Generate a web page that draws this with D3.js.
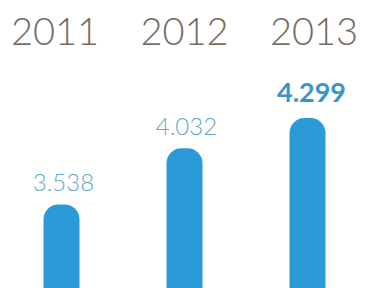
<!DOCTYPE html>
<html>
<head>
<meta charset="utf-8">
<script src="https://cdn.jsdelivr.net/npm/d3@7"></script>
<style>
  body { margin: 0; background: #fff; }
  svg { display: block; }
</style>
</head>
<body>
<div id="chart"></div>
<script>
const years = ["2011", "2012", "2013"];
const values = [3538, 4032, 4299];
const labels = ["3.538", "4.032", "4.299"];

const width = 372, height = 288;

const svg = d3.select("#chart").append("svg")
    .attr("width", width)
    .attr("height", height);

// bars
const x = d3.scalePoint()
    .domain(years)
    .range([0, 369])
    .padding(0.5);

// year headers sit a bit wider than the bars
const xYear = d3.scalePoint()
    .domain(years)
    .range([55, 314]);

const y = d3.scaleLinear()
    .domain([0, 4299])
    .range([606, 118]);

const barW = 36;
const data = years.map((d, i) => ({year: d, value: values[i], label: labels[i], last: i === years.length - 1}));

svg.append("g")
  .selectAll("rect")
  .data(data)
  .enter().append("rect")
    .attr("x", d => x(d.year) - barW / 2)
    .attr("y", d => y(d.value))
    .attr("width", barW)
    .attr("height", d => y(0) - y(d.value))
    .attr("rx", 15)
    .attr("fill", "#2a9bd7");

svg.append("g")
  .selectAll("text")
  .data(data)
  .enter().append("text")
    .attr("x", d => x(d.year) + (d.last ? 4 : 2))
    .attr("y", d => y(d.value) - (d.last ? 16 : 13))
    .attr("text-anchor", "middle")
    .attr("font-family", "Lato, sans-serif")
    .attr("font-weight", d => d.last ? 700 : 300)
    .attr("font-size", d => d.last ? 27 : 24)
    .attr("fill", d => d.last ? "#3896c6" : "#62a8c9")
    .text(d => d.label);

svg.append("g")
  .selectAll("text")
  .data(years)
  .enter().append("text")
    .attr("x", d => xYear(d))
    .attr("y", 45)
    .attr("text-anchor", "middle")
    .attr("font-family", "Lato, sans-serif")
    .attr("font-weight", 300)
    .attr("font-size", 38)
    .attr("fill", "#766b60")
    .text(d => d);
</script>
</body>
</html>
